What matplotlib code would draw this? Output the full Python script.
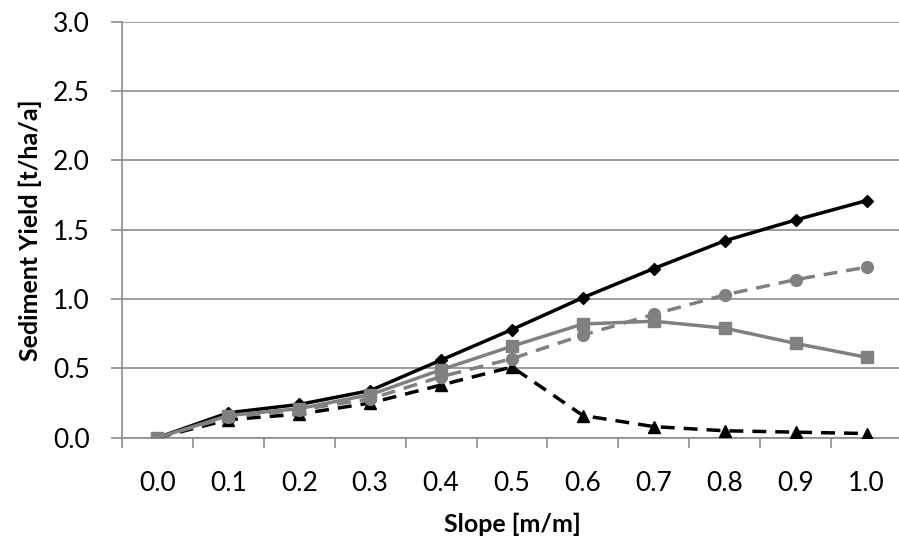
import matplotlib
matplotlib.use("Agg")
import matplotlib.pyplot as plt
import numpy as np

categories = ["0.0", "0.1", "0.2", "0.3", "0.4", "0.5", "0.6", "0.7", "0.8", "0.9", "1.0"]
black_diamond = [0.0, 0.18, 0.24, 0.34, 0.56, 0.78, 1.01, 1.22, 1.42, 1.57, 1.71]
gray_circle = [0.0, 0.15, 0.20, 0.28, 0.44, 0.57, 0.74, 0.89, 1.03, 1.14, 1.23]
gray_square = [0.0, 0.16, 0.21, 0.31, 0.49, 0.66, 0.82, 0.84, 0.79, 0.68, 0.58]
black_triangle = [0.0, 0.13, 0.17, 0.25, 0.38, 0.51, 0.16, 0.08, 0.05, 0.04, 0.03]
y_ticks = [0.0, 0.5, 1.0, 1.5, 2.0, 2.5, 3.0]

plt.rcParams['font.family'] = ['Lato', 'DejaVu Sans']

fig = plt.figure(figsize=(8.99, 5.43), dpi=100)
ax = fig.add_axes([122/899, (543-437.7)/543, 780/899, 416/543])

x = np.arange(len(categories))
gray = "#808080"
lw = 2.5
dash = (0, (4.0, 2.6))

ax.plot(x, black_triangle, color="black", lw=lw, linestyle=dash, marker="^", ms=8,
        zorder=3)
ax.plot(x, gray_circle, color=gray, lw=lw, linestyle=dash, marker="o", ms=8.5, zorder=4)
ax.plot(x, black_diamond, color="black", lw=lw, linestyle="-", marker="D", ms=6, zorder=5)
ax.plot(x, gray_square, color=gray, lw=lw, linestyle="-", marker="s", ms=8, zorder=6)

ax.set_xlim(-0.5, len(categories) - 0.5)
ax.set_ylim(0, 3.0)
ax.set_yticks(y_ticks)
ax.set_yticklabels([f"{v:.1f}" for v in y_ticks], fontsize=19)
ax.set_xticks(x)
ax.set_xticklabels(categories, fontsize=19)
ax.set_xticks(np.arange(-0.5, len(categories) + 0.5, 1.0), minor=True)

grid_color = "#8c8c8c"
ax.yaxis.grid(True, color=grid_color, lw=1.2)
ax.set_axisbelow(True)
for s in ["top", "right"]:
    ax.spines[s].set_visible(False)
for s in ["left", "bottom"]:
    ax.spines[s].set_color(grid_color)
    ax.spines[s].set_linewidth(1.2)

ax.tick_params(axis="y", which="major", length=8, color=grid_color, width=1.2, pad=15)
ax.tick_params(axis="x", which="major", length=0, pad=24)
ax.tick_params(axis="x", which="minor", length=7.5, color=grid_color, width=1.2)

ax.set_xlabel("Slope [m/m]", fontsize=18, fontweight="bold", labelpad=12)
ax.set_ylabel("Sediment Yield [t/ha/a]", fontsize=18, fontweight="bold", labelpad=8)

fig.savefig("out.png", dpi=100)
